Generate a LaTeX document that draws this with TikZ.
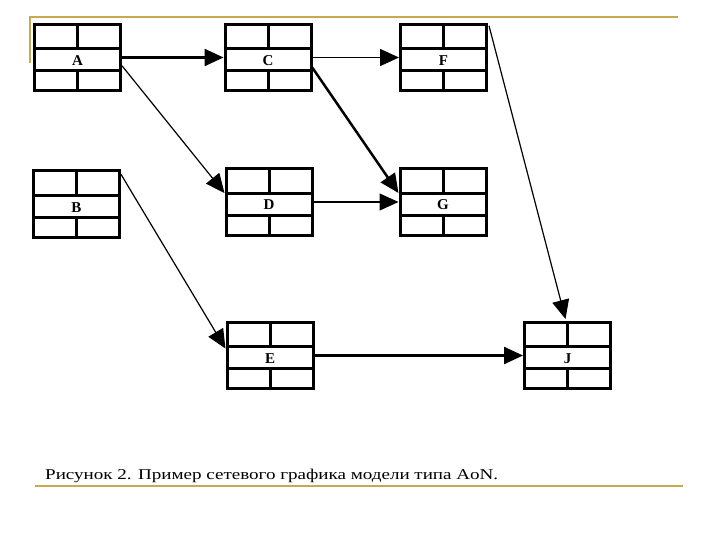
\documentclass[tikz,border=0pt]{standalone}
\usepackage{fontspec}
\setmainfont{Liberation Serif}
\usetikzlibrary{calc,arrows.meta}
\definecolor{gold}{RGB}{200,168,80}
\begin{document}
\begin{tikzpicture}[x=1pt,y=-1pt,
  box/.style={draw,line width=3pt,minimum width=86pt,minimum height=66pt,inner sep=0pt,
    text height=16pt,text depth=0pt,
    font=\bfseries\fontsize{15}{15}\selectfont},
  boxline/.style={line width=3pt},
  arr/.style={-{Triangle[length=19pt,width=17pt]}},
  thinarr/.style={arr,line width=1.2pt},
  thickarr/.style={arr,line width=2.5pt},
  rule/.style={gold,line width=2.2pt}]
\useasboundingbox (0,0) rectangle (720,540);
% frame lines
\coordinate (t1) at (30,63);
\coordinate (t2) at (30,17);
\coordinate (t3) at (678,17);
\coordinate (b1) at (35,486);
\coordinate (b2) at (683,486);
\draw[rule] (t1) -- (t2) -- (t3);
\draw[rule,line width=2.8pt] (b1) -- (b2);
% boxes
\node[box] (A) at (77.5,57.5) {A};
\node[box] (C) at (268,57.5) {C};
\node[box] (F) at (443.5,57.5) {F};
\node[box] (B) at (76.5,204) {B};
\node[box] (D) at (269,202) {D};
\node[box] (G) at (443,202) {G};
\node[box] (E) at (270,355.5) {E};
\node[box] (J) at (567.5,355.5) {J};
\foreach \n in {A,B,C,D,E,F,G,J}{
  \draw[boxline] ($(\n.north west)!0.37!(\n.south west)$) -- ($(\n.north east)!0.37!(\n.south east)$);
  \draw[boxline] ($(\n.north west)!0.69!(\n.south west)$) -- ($(\n.north east)!0.69!(\n.south east)$);
  \draw[boxline] (\n.north) -- ($(\n.north)!0.37!(\n.south)$);
  \draw[boxline] ($(\n.north)!0.69!(\n.south)$) -- (\n.south);
}
% connectors
\draw[thickarr] (A.east) -- (C.west);
\draw[thinarr] ($(A.north east)!0.62!(A.south east)$) -- ($(D.north west)!0.37!(D.south west)$);
\draw[arr,line width=1.6pt] (C.east) -- (F.west);
\draw[thickarr] ($(C.north east)!0.65!(C.south east)$) -- ($(G.north west)!0.37!(G.south west)$);
\draw[thinarr] (D.east) -- (G.west);
\draw[thinarr] ($(F.north east)!0.04!(F.south east)+(1,0)$) -- ($(J.north)+(-2,-2)$);
\draw[thinarr] ($(B.north east)!0.07!(B.south east)$) -- ($(E.north west)!0.4!(E.south west)$);
\draw[thickarr] (E.east) -- (J.west);
% caption
\node[anchor=base west,inner sep=0pt,font=\fontsize{15}{15}\selectfont] (cap) at (45,479) {\scalebox{1.27}[1]{Рисунок 2. Пример сетевого графика модели типа AoN.}};
\end{tikzpicture}
\end{document}
